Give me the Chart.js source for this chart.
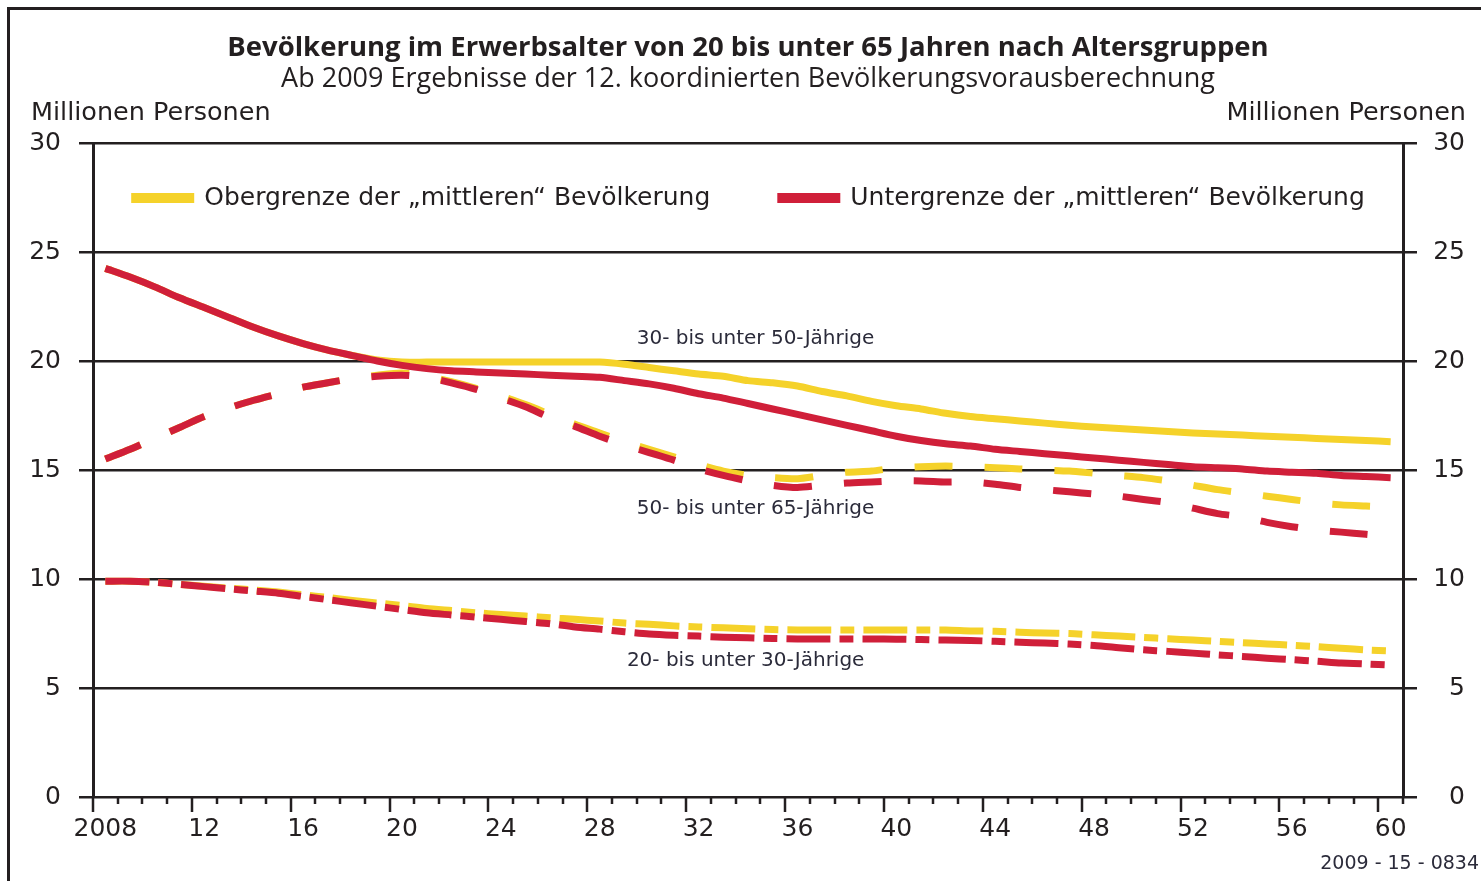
<!DOCTYPE html>
<html lang="de">
<head>
<meta charset="utf-8">
<title>Bevölkerung im Erwerbsalter nach Altersgruppen</title>
<script src="https://cdn.jsdelivr.net/npm/chart.js@4.4.1/dist/chart.umd.min.js"></script>
<style>
    html, body { margin: 0; padding: 0; background: #fff; }
    #wrap { width: 1481px; height: 881px; }
</style>
</head>
<body>
<div id="wrap"><canvas id="chart" width="1481" height="881"></canvas></div>
<script>
// Jahre (Kategorien)
const years = [
    2008, 2009, 2010, 2011, 2012, 2013, 2014, 2015, 2016, 2017,
    2018, 2019, 2020, 2021, 2022, 2023, 2024, 2025, 2026, 2027,
    2028, 2029, 2030, 2031, 2032, 2033, 2034, 2035, 2036, 2037,
    2038, 2039, 2040, 2041, 2042, 2043, 2044, 2045, 2046, 2047,
    2048, 2049, 2050, 2051, 2052, 2053, 2054, 2055, 2056, 2057,
    2058, 2059, 2060
];

// 30- bis unter 50-Jährige (Mio.)
const upper30to50 = [
    24.25, 23.85, 23.4, 22.9, 22.45, 22.0, 21.55, 21.15, 20.8, 20.5,
    20.25, 20.05, 19.95, 19.95, 19.95, 19.95, 19.95, 19.95, 19.95, 19.95,
    19.95, 19.85, 19.7, 19.55, 19.4, 19.3, 19.1, 19.0, 18.85, 18.6,
    18.4, 18.15, 17.95, 17.8, 17.6, 17.45, 17.35, 17.25, 17.15, 17.05,
    16.97, 16.9, 16.83, 16.77, 16.7, 16.65, 16.6, 16.55, 16.5, 16.45,
    16.4, 16.35, 16.3
];
const lower30to50 = [
    24.25, 23.85, 23.4, 22.9, 22.45, 22.0, 21.55, 21.15, 20.8, 20.5,
    20.25, 20.0, 19.8, 19.65, 19.55, 19.5, 19.45, 19.4, 19.35, 19.3,
    19.25, 19.1, 18.95, 18.75, 18.5, 18.3, 18.05, 17.8, 17.55, 17.3,
    17.05, 16.8, 16.55, 16.35, 16.2, 16.1, 15.95, 15.85, 15.75, 15.65,
    15.55, 15.45, 15.35, 15.25, 15.15, 15.1, 15.05, 14.95, 14.9, 14.85,
    14.75, 14.7, 14.65
];

// 50- bis unter 65-Jährige (Mio.)
const upper50to65 = [
    15.5, 15.95, 16.45, 16.95, 17.45, 17.85, 18.2, 18.5, 18.8, 19.0,
    19.2, 19.35, 19.45, 19.3, 19.05, 18.75, 18.4, 18.0, 17.55, 17.1,
    16.7, 16.3, 15.95, 15.6, 15.25, 14.95, 14.75, 14.65, 14.6, 14.75,
    14.9, 14.95, 15.1, 15.15, 15.18, 15.15, 15.1, 15.05, 15.0, 14.95,
    14.85, 14.75, 14.65, 14.5, 14.3, 14.1, 13.95, 13.8, 13.65, 13.5,
    13.4, 13.35, 13.3
];
const lower50to65 = [
    15.5, 15.95, 16.45, 16.95, 17.45, 17.85, 18.2, 18.5, 18.8, 19.0,
    19.2, 19.3, 19.35, 19.25, 19.0, 18.7, 18.3, 17.9, 17.4, 17.0,
    16.55, 16.15, 15.8, 15.45, 15.05, 14.75, 14.5, 14.3, 14.2, 14.3,
    14.4, 14.45, 14.5, 14.5, 14.45, 14.45, 14.35, 14.2, 14.1, 14.0,
    13.9, 13.8, 13.65, 13.5, 13.25, 13.0, 12.85, 12.6, 12.4, 12.25,
    12.15, 12.05, 11.95
];

// 20- bis unter 30-Jährige (Mio.)
const upper20to30 = [
    9.9, 9.9, 9.85, 9.75, 9.67, 9.58, 9.5, 9.4, 9.28, 9.15,
    9.02, 8.9, 8.78, 8.65, 8.55, 8.45, 8.37, 8.3, 8.22, 8.15,
    8.07, 7.98, 7.92, 7.85, 7.8, 7.76, 7.72, 7.68, 7.66, 7.66,
    7.66, 7.66, 7.66, 7.66, 7.66, 7.62, 7.6, 7.56, 7.52, 7.5,
    7.44, 7.38, 7.32, 7.26, 7.2, 7.14, 7.08, 7.02, 6.96, 6.9,
    6.82, 6.75, 6.7
];
const lower20to30 = [
    9.9, 9.9, 9.85, 9.75, 9.65, 9.55, 9.45, 9.35, 9.2, 9.05,
    8.9, 8.75, 8.6, 8.45, 8.35, 8.25, 8.15, 8.05, 7.95, 7.8,
    7.7, 7.58, 7.48, 7.42, 7.38, 7.33, 7.3, 7.27, 7.25, 7.25,
    7.25, 7.25, 7.24, 7.22, 7.2, 7.18, 7.14, 7.1, 7.06, 7.02,
    6.95, 6.85, 6.75, 6.68, 6.6, 6.52, 6.45, 6.37, 6.3, 6.23,
    6.15, 6.1, 6.05
];

const yTicks = [0, 5, 10, 15, 20, 25, 30];

const ink = '#231f20';
const yellow = '#f5d22a';
const red = '#d01f39';
const textFont = 'DejaVu Sans';

const lowerLabel = 'Untergrenze der \u201Emittleren\u201C Bevölkerung';
const upperLabel = 'Obergrenze der \u201Emittleren\u201C Bevölkerung';

// Beschriftungen der Altersgruppen im Diagramm (Kategorie-Index, Wert)
const groupNotes = [
    { text: '30- bis unter 50-Jährige', x: 21.5, y: 21.0 },
    { text: '50- bis unter 65-Jährige', x: 21.5, y: 13.2 },
    { text: '20- bis unter 30-Jährige', x: 21.1, y: 6.25 },
];

function lineSet(label, data, color, dash) {
    return {
        label: label,
        data: data,
        borderColor: color,
        backgroundColor: color,
        borderWidth: 7,
        borderDash: dash,
        borderCapStyle: 'butt',
        pointRadius: 0,
        tension: 0.25,
        fill: false,
    };
}

const decorations = {
    id: 'decorations',
    beforeDraw(chart) {
        const ctx = chart.ctx;
        ctx.save();
        // Rahmen links und oben
        ctx.strokeStyle = ink;
        ctx.lineWidth = 3;
        ctx.beginPath();
        ctx.moveTo(8.5, chart.height);
        ctx.lineTo(8.5, 8.5);
        ctx.lineTo(chart.width, 8.5);
        ctx.stroke();
        ctx.restore();
    },
    afterDraw(chart) {
        const ctx = chart.ctx;
        const area = chart.chartArea;
        const xs = chart.scales.x;
        const ys = chart.scales.y;
        ctx.save();

        // Tick-Striche an den Jahresgrenzen
        ctx.strokeStyle = ink;
        ctx.lineWidth = 2.5;
        for (let i = 0; i <= years.length; i++) {
            const px = Math.round(xs.getPixelForValue(i - 0.5));
            const long = i < years.length && (years[i] - 2008) % 4 === 0;
            ctx.beginPath();
            ctx.moveTo(px, area.bottom);
            ctx.lineTo(px, area.bottom + (long ? 15 : 7));
            ctx.stroke();
        }

        // Einheit über den Achsen
        ctx.fillStyle = ink;
        ctx.font = '25.5px "' + textFont + '"';
        ctx.textBaseline = 'middle';
        ctx.textAlign = 'left';
        ctx.fillText('Millionen Personen', ys.left, area.top - 30);
        ctx.textAlign = 'right';
        ctx.fillText('Millionen Personen', chart.scales.y2.right + 1, area.top - 30);

        // Legende
        ctx.font = '25px "' + textFont + '"';
        const items = [chart.data.datasets[3], chart.data.datasets[0]];
        const swatch = 63, gap = 10, between = 67;
        const widths = items.map(d => swatch + gap + ctx.measureText(d.label).width);
        const total = widths[0] + widths[1] + between;
        let lx = (area.left + area.right) / 2 - total / 2;
        const ly = area.top + 55;
        items.forEach((d, i) => {
            ctx.fillStyle = d.borderColor;
            ctx.fillRect(lx, ly - 5, swatch, 10);
            ctx.fillStyle = ink;
            ctx.textAlign = 'left';
            ctx.fillText(d.label, lx + swatch + gap, ly);
            lx += widths[i] + between;
        });

        // Altersgruppen
        ctx.font = '20px "' + textFont + '"';
        ctx.fillStyle = '#2b2b3a';
        groupNotes.forEach(n => {
            ctx.fillText(n.text, xs.getPixelForValue(n.x), ys.getPixelForValue(n.y));
        });

        // Kennnummer
        ctx.font = '19px "' + textFont + '"';
        ctx.textAlign = 'right';
        ctx.fillText('2009 - 15 - 0834', chart.width - 2, 864);

        ctx.restore();
    }
};

const axisFont = { family: textFont, size: 25 };

new Chart(document.getElementById('chart'), {
    type: 'line',
    data: {
        labels: years,
        datasets: [
            lineSet(lowerLabel, lower30to50, red, []),
            lineSet(lowerLabel, lower50to65, red, [38, 32]),
            lineSet(lowerLabel, lower20to30, red, [44, 9, 14, 9]),
            lineSet(upperLabel, upper30to50, yellow, []),
            lineSet(upperLabel, upper50to65, yellow, [38, 32]),
            lineSet(upperLabel, upper20to30, yellow, [44, 9, 14, 9]),
        ]
    },
    options: {
        responsive: false,
        animation: false,
        layout: { padding: { left: 31, right: 16, top: 0, bottom: 0 } },
        plugins: {
            legend: { display: false },
            tooltip: { enabled: false },
            title: {
                display: true,
                text: 'Bevölkerung im Erwerbsalter von 20 bis unter 65 Jahren nach Altersgruppen',
                color: ink,
                font: { family: 'Open Sans', size: 27.5, weight: 'bold', lineHeight: 1.2 },
                padding: { top: 31.5, bottom: 0 },
            },
            subtitle: {
                display: true,
                text: 'Ab 2009 Ergebnisse der 12. koordinierten Bevölkerungsvorausberechnung',
                color: ink,
                font: { family: 'Open Sans', size: 27, lineHeight: 1.0 },
                padding: { top: 1, bottom: 50.5 },
            },
        },
        scales: {
            x: {
                type: 'category',
                offset: true,
                grid: { display: false, drawTicks: false },
                border: { display: false },
                ticks: {
                    autoSkip: false,
                    maxRotation: 0,
                    padding: 17,
                    color: ink,
                    font: axisFont,
                    callback: function(value, index) {
                        const y = years[index];
                        if ((y - 2008) % 4 !== 0) return '';
                        return index === 0 ? String(y) : String(y).slice(2);
                    }
                },
                afterFit(scale) { scale.height = 84; },
            },
            y: {
                position: 'left',
                min: 0,
                max: 30,
                afterBuildTicks(scale) { scale.ticks = yTicks.map(v => ({ value: v })); },
                grid: { color: ink, lineWidth: 2.5, tickLength: 14 },
                border: { display: true, color: ink, width: 3 },
                ticks: { color: ink, font: axisFont, padding: 18 },
                afterFit(scale) { scale.width = 62; },
            },
            y2: {
                position: 'right',
                min: 0,
                max: 30,
                afterBuildTicks(scale) { scale.ticks = yTicks.map(v => ({ value: v })); },
                grid: { drawOnChartArea: false, color: ink, lineWidth: 2.5, tickLength: 14 },
                border: { display: true, color: ink, width: 3 },
                ticks: { color: ink, font: axisFont, crossAlign: 'far' },
                afterFit(scale) { scale.width = 62; },
            },
        },
    },
    plugins: [decorations],
});
</script>
</body>
</html>
